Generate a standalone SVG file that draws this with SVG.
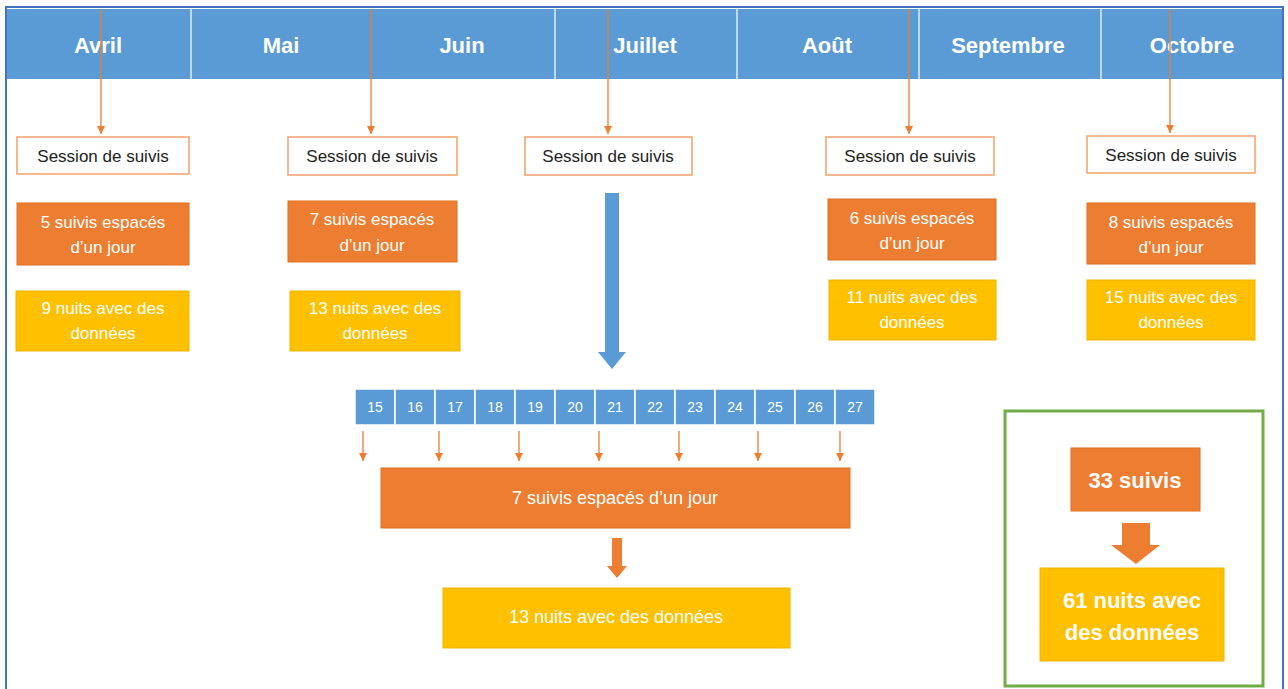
<svg xmlns="http://www.w3.org/2000/svg" width="1288" height="689" viewBox="0 0 1288 689">
<defs>
<marker id="ah" markerWidth="8" markerHeight="8" refX="8" refY="4" orient="auto" markerUnits="userSpaceOnUse" viewBox="0 0 8 8">
<path d="M0,0 L8,4 L0,8 Z" fill="#ED7D31"/>
</marker>
</defs>
<style>
text{font-family:"Liberation Sans",Arial,sans-serif;text-anchor:middle;dominant-baseline:central}
.month{font-size:22px;font-weight:bold;fill:#fff}
.sess rect{fill:#fff;stroke:#F4A06A;stroke-width:1.5}
.sess text{font-size:17px;fill:#222}
.or rect{fill:#ED7D31;stroke:#E07020;stroke-width:1}
.ye rect{fill:#FFC000;stroke:#F0B400;stroke-width:1}
.or text,.ye text{font-size:17px;fill:#fff}
.wide text{font-size:18px}
.big{font-size:22px!important;font-weight:bold}
.day rect{fill:#5B9BD5;stroke:#fff;stroke-width:1.5}
.day text{font-size:14px;fill:#fff}
.conn line{stroke:#ED7D31;stroke-width:1.3;marker-end:url(#ah)}
</style>
<rect x="0" y="0" width="1288" height="689" fill="#fff"/>
<rect x="6" y="7" width="1277" height="690" fill="none" stroke="#4472C4" stroke-width="2"/>
<g id="header">
<rect x="7" y="9" width="1275" height="70" fill="#5B9BD5"/>
<g stroke="#fff" stroke-width="1.5" opacity="0.8">
<line x1="191" y1="9" x2="191" y2="79"/>
<line x1="555" y1="9" x2="555" y2="79"/>
<line x1="737" y1="9" x2="737" y2="79"/>
<line x1="919" y1="9" x2="919" y2="79"/>
<line x1="1101" y1="9" x2="1101" y2="79"/>
</g>
<text class="month" x="98" y="45">Avril</text>
<text class="month" x="281" y="45">Mai</text>
<text class="month" x="462" y="45">Juin</text>
<text class="month" x="645" y="45">Juillet</text>
<text class="month" x="827" y="45">Août</text>
<text class="month" x="1008" y="45">Septembre</text>
<text class="month" x="1192" y="45">Octobre</text>
</g>
<g id="connectors" class="conn">
<line x1="101" y1="9" x2="101" y2="134"/>
<line x1="371" y1="9" x2="371" y2="134"/>
<line x1="608" y1="9" x2="608" y2="134"/>
<line x1="909" y1="9" x2="909" y2="134"/>
<line x1="1170" y1="9" x2="1170" y2="133"/>
<line x1="363" y1="431" x2="363" y2="461"/>
<line x1="439" y1="431" x2="439" y2="461"/>
<line x1="519" y1="431" x2="519" y2="461"/>
<line x1="599" y1="431" x2="599" y2="461"/>
<line x1="679" y1="431" x2="679" y2="461"/>
<line x1="758" y1="431" x2="758" y2="461"/>
<line x1="840" y1="431" x2="840" y2="461"/>
<path d="M605,193 H619 V352 H626 L612,369 L598,352 H605 Z" fill="#5B9BD5" stroke="none"/>
<path d="M612,538 H622 V566 H627 L617,578 L607,566 H612 Z" fill="#ED7D31" stroke="none"/>
<path d="M1122,523 H1150 V545 H1160 L1136,564 L1111,545 H1122 Z" fill="#ED7D31" stroke="none"/>
</g>
<g id="session1" class="sess"><rect x="17" y="137" width="172" height="37"/><text x="103" y="156">Session de suivis</text></g>
<g id="session2" class="sess"><rect x="288" y="137" width="169" height="38"/><text x="372" y="156">Session de suivis</text></g>
<g id="session3" class="sess"><rect x="525" y="137" width="167" height="38"/><text x="608" y="156">Session de suivis</text></g>
<g id="session4" class="sess"><rect x="826" y="137" width="168" height="38"/><text x="910" y="156">Session de suivis</text></g>
<g id="session5" class="sess"><rect x="1087" y="136" width="168" height="37"/><text x="1171" y="155">Session de suivis</text></g>
<g id="suivis1" class="or"><rect x="17" y="203" width="172" height="62"/><text x="103" y="222">5 suivis espacés</text><text x="103" y="247">d’un jour</text></g>
<g id="suivis2" class="or"><rect x="288" y="201" width="169" height="61"/><text x="372" y="219">7 suivis espacés</text><text x="372" y="245">d’un jour</text></g>
<g id="suivis4" class="or"><rect x="828" y="199" width="168" height="61"/><text x="912" y="218">6 suivis espacés</text><text x="912" y="243">d’un jour</text></g>
<g id="suivis5" class="or"><rect x="1087" y="203" width="168" height="61"/><text x="1171" y="222">8 suivis espacés</text><text x="1171" y="247">d’un jour</text></g>
<g id="nuits1" class="ye"><rect x="16" y="291" width="173" height="60"/><text x="103" y="308">9 nuits avec des</text><text x="103" y="333">données</text></g>
<g id="nuits2" class="ye"><rect x="290" y="291" width="170" height="60"/><text x="375" y="308">13 nuits avec des</text><text x="375" y="333">données</text></g>
<g id="nuits4" class="ye"><rect x="829" y="280" width="167" height="60"/><text x="912" y="297">11 nuits avec des</text><text x="912" y="322">données</text></g>
<g id="nuits5" class="ye"><rect x="1087" y="280" width="168" height="60"/><text x="1171" y="297">15 nuits avec des</text><text x="1171" y="322">données</text></g>
<g id="days" class="day">
<rect x="355" y="389" width="40" height="36"/><text x="375" y="407">15</text>
<rect x="395" y="389" width="40" height="36"/><text x="415" y="407">16</text>
<rect x="435" y="389" width="40" height="36"/><text x="455" y="407">17</text>
<rect x="475" y="389" width="40" height="36"/><text x="495" y="407">18</text>
<rect x="515" y="389" width="40" height="36"/><text x="535" y="407">19</text>
<rect x="555" y="389" width="40" height="36"/><text x="575" y="407">20</text>
<rect x="595" y="389" width="40" height="36"/><text x="615" y="407">21</text>
<rect x="635" y="389" width="40" height="36"/><text x="655" y="407">22</text>
<rect x="675" y="389" width="40" height="36"/><text x="695" y="407">23</text>
<rect x="715" y="389" width="40" height="36"/><text x="735" y="407">24</text>
<rect x="755" y="389" width="40" height="36"/><text x="775" y="407">25</text>
<rect x="795" y="389" width="40" height="36"/><text x="815" y="407">26</text>
<rect x="835" y="389" width="40" height="36"/><text x="855" y="407">27</text>
</g>
<g id="juillet-suivis" class="or wide"><rect x="381" y="468" width="469" height="60"/><text x="615" y="498">7 suivis espacés d’un jour</text></g>
<g id="juillet-nuits" class="ye wide"><rect x="443" y="588" width="347" height="60"/><text x="616" y="617">13 nuits avec des données</text></g>
<g id="total">
<rect x="1005" y="411" width="258" height="275" fill="none" stroke="#70AD47" stroke-width="3"/>
<g id="total-suivis" class="or"><rect x="1071" y="448" width="129" height="63"/><text class="big" x="1135" y="480">33 suivis</text></g>
<g id="total-nuits" class="ye"><rect x="1040" y="568" width="184" height="93"/><text class="big" x="1132" y="600">61 nuits avec</text><text class="big" x="1132" y="632">des données</text></g>
</g>
</svg>
